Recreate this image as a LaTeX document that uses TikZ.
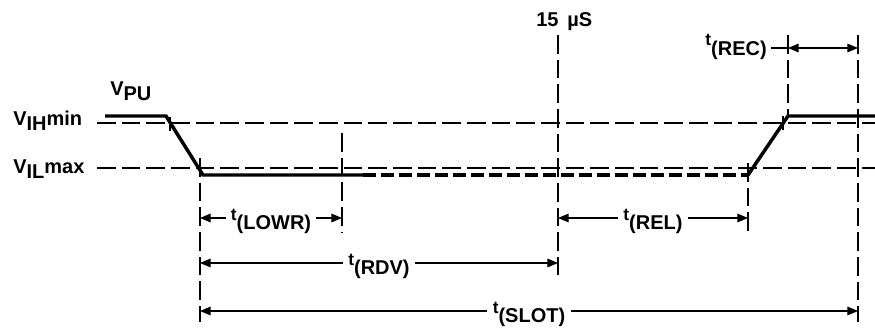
\documentclass[tikz,border=0pt]{standalone}
\usepackage{fontspec}
\setmainfont{Liberation Sans}
\usetikzlibrary{arrows.meta}
\tikzset{
	signal/.style={line width=2.6pt},
	guide/.style={line width=0.8pt, dash pattern=on 14pt off 4.5pt},
	tick/.style={line width=0.8pt},
	dim/.style={line width=0.8pt, {Triangle[length=8pt,width=6.5pt]}-{Triangle[length=8pt,width=6.5pt]}},
	lbl/.style={font=\fontsize{15}{18}\selectfont\bfseries, inner sep=0pt},
	tlbl/.style={lbl, fill=white, inner xsep=4pt, inner ysep=1pt, anchor=base, yshift=-1.5pt},
}
\newcommand{\tsub}[1]{{\fontsize{13}{16}\selectfont t}\raisebox{-7pt}{#1}}
\newcommand{\vsub}[2]{V\raisebox{-4pt}{#1}#2}
\begin{document}
\begin{tikzpicture}[x=0.75pt,y=-0.75pt]
		\useasboundingbox (0,0) rectangle (875,328);
		% Levels
			\draw [guide] (97,123) -- (875,123);
			\draw [guide] (97,168) -- (875,168);
			\node [lbl, anchor=base west] (vih) at (13,125) {\vsub{IH}{min}};
			\node [lbl, anchor=base west] (vil) at (13,173) {\vsub{IL}{max}};
			\node [lbl, anchor=base west] (vpu) at (110,95) {\vsub{PU}{}};
			\node [lbl, anchor=base west] (tmark) at (536,27) {15 \,µS};
			
		% Time marks
			\coordinate (a) at (200,0);
			\coordinate (b) at (342,0);
			\coordinate (c) at (558,0);
			\coordinate (d) at (748,0);
			\coordinate (e) at (788,0);
			\coordinate (f) at (858,0);
			\draw [guide] (200,158) -- (200,322);
			\draw [guide] (342,133) -- (342,233);
			\draw [guide] (558,35) -- (558,275);
			\draw [guide] (748,163) -- (748,233);
			\draw [guide] (788,35) -- (788,118);
			\draw [guide] (858,35) -- (858,322);
			\draw [tick] (170,117) -- (170,131);
			\draw [tick] (783,116) -- (783,130);
			
		% Signal
			\draw [signal] (105,116) -- (166,116) -- (203,175) -- (363,175);
			\draw [signal, dash pattern=on 10pt off 3.5pt] (363,175) -- (748,175);
			\draw [signal] (748,175) -- (788,116) -- (875,116);
			
		% Intervals
			\draw [dim] (a |- 0,218) -- node [tlbl] (lowr) {\tsub{(LOWR)}} (b |- 0,218);
			\draw [dim] (c |- 0,218) -- node [tlbl] (rel) {\tsub{(REL)}} (d |- 0,218);
			\draw [dim] (a |- 0,263) -- node [tlbl] (rdv) {\tsub{(RDV)}} (c |- 0,263);
			\draw [dim] (a |- 0,311) -- node [tlbl] (slot) {\tsub{(SLOT)}} (f |- 0,311);
			\draw [dim] (e |- 0,48) -- (f |- 0,48);
			\node [lbl, anchor=base east] (rec) at (767,46) {\tsub{(REC)}};
			\draw [tick] ([xshift=3pt]rec.east |- e |- 0,48) -- (e |- 0,48);
			
		\end{tikzpicture}
\end{document}
